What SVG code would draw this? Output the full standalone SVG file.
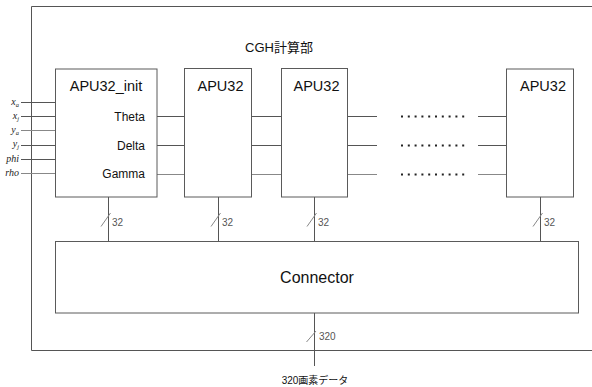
<svg xmlns="http://www.w3.org/2000/svg" width="592" height="387" viewBox="0 0 592 387">
<style>
.box{fill:#fff;stroke:#5a5a5a;stroke-width:1}
.ln{stroke:#555;stroke-width:1;fill:none}
.lt{stroke:#888;stroke-width:1;fill:none}
.dots{stroke:#222;stroke-width:2;stroke-dasharray:2 4.8;fill:none}
.t{font-family:"Liberation Sans",Arial,"Noto Sans CJK JP",sans-serif;fill:#111}
.s{font-family:"Liberation Sans",Arial,"Noto Sans CJK JP",sans-serif;fill:#555;font-size:10px}
.in{font-family:"Liberation Serif","Times New Roman",serif;font-style:italic;font-size:10px;fill:#222;text-anchor:end}
</style>
<rect width="592" height="387" fill="#fff"/>
<g id="frame">
<path class="ln" d="M600,6.5 H31.5 V350.5 H600"/>
<text class="t" x="279" y="52" font-size="13" text-anchor="middle">CGH計算部</text>
</g>
<g id="connectors">
<path class="ln" d="M21,102.5H55.5M21,116.5H55.5M21,145.5H55.5M21,159.5H55.5"/>
<path class="lt" d="M21,130.5H55.5M21,173.5H55.5"/>
<path class="ln" d="M157,116.5H184.5M157,145.5H184.5M251.5,116.5H281.5M251.5,145.5H281.5M347.5,116.5H377M347.5,145.5H377M478,116.5H506.5M478,145.5H506.5"/>
<path class="lt" d="M157,174.5H184.5M251.5,174.5H281.5M347.5,174.5H377M478,174.5H506.5"/>
<path class="dots" d="M401,116.5H465M401,145.5H465M401,174.5H465"/>
<path class="ln" d="M108.5,197V241.5M218.5,197V241.5M314.5,197V241.5M540.5,197V241.5M314.5,313V366"/>
<path class="lt" d="M101,226.5L110.5,213M211,226.5L220.5,213M307,226.5L316.5,213M533,226.5L542.5,213M306.5,342L316,331"/>
<text class="s" x="112" y="226">32</text>
<text class="s" x="222" y="226">32</text>
<text class="s" x="318" y="226">32</text>
<text class="s" x="544" y="226">32</text>
<text class="s" x="319" y="340">320</text>
</g>
<g id="inputs">
<text class="in" x="19" y="105">x<tspan font-size="6.5" dy="2">a</tspan></text>
<text class="in" x="19" y="119">x<tspan font-size="6.5" dy="2">j</tspan></text>
<text class="in" x="19" y="133">y<tspan font-size="6.5" dy="2">a</tspan></text>
<text class="in" x="19" y="147">y<tspan font-size="6.5" dy="2">j</tspan></text>
<text class="in" x="19" y="162">phi</text>
<text class="in" x="19" y="176">rho</text>
</g>
<g id="apu32_init">
<rect class="box" x="55.5" y="69" width="101.5" height="128"/>
<text class="t" x="106" y="91" font-size="14.5" text-anchor="middle">APU32_init</text>
<text class="t" x="145" y="120.5" font-size="12" text-anchor="end">Theta</text>
<text class="t" x="145" y="149.5" font-size="12" text-anchor="end">Delta</text>
<text class="t" x="145" y="178" font-size="12" text-anchor="end">Gamma</text>
</g>
<g id="apu32_1">
<rect class="box" x="184.5" y="68.5" width="67" height="128.5"/>
<text class="t" x="220.5" y="91" font-size="14.5" text-anchor="middle">APU32</text>
</g>
<g id="apu32_2">
<rect class="box" x="281.5" y="68.5" width="66" height="128.5"/>
<text class="t" x="316.5" y="91" font-size="14.5" text-anchor="middle">APU32</text>
</g>
<g id="apu32_n">
<rect class="box" x="506.5" y="69" width="67" height="128"/>
<text class="t" x="543" y="91" font-size="14.5" text-anchor="middle">APU32</text>
</g>
<g id="connector">
<rect class="box" x="55.5" y="241.5" width="523" height="71.5"/>
<text class="t" x="317" y="283" font-size="16" text-anchor="middle">Connector</text>
</g>
<g id="output">
<text class="t" x="315" y="384" font-size="10" fill="#333" text-anchor="middle">320画素データ</text>
</g>
</svg>
